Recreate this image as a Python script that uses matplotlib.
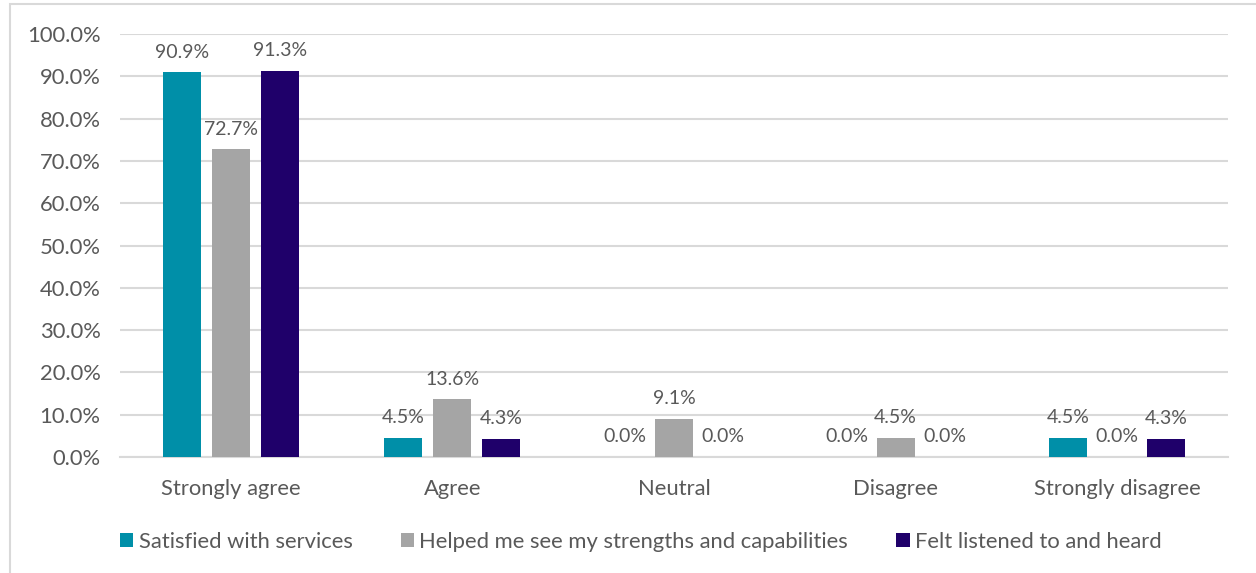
import matplotlib.pyplot as plt
import numpy as np
from matplotlib.patches import Rectangle

# Survey responses, percent of respondents
categories = ['Strongly agree', 'Agree', 'Neutral', 'Disagree', 'Strongly disagree']
series_names = ['Satisfied with services',
                'Helped me see my strengths and capabilities',
                'Felt listened to and heard']
satisfied = [90.9, 4.5, 0.0, 0.0, 4.5]
strengths = [72.7, 13.6, 9.1, 4.5, 0.0]
listened = [91.3, 4.3, 0.0, 0.0, 4.3]
series_colors = ['#008FA8', '#A5A5A5', '#1F006A']

plt.rcParams['font.family'] = ['Lato', 'DejaVu Sans']
text_color = '#595959'
grid_color = '#D9D9D9'

fig = plt.figure(figsize=(12.56, 5.73), dpi=100)
# chart area outline (runs off the right and bottom edges)
fig.patches.append(Rectangle((10 / 1256, -0.1), 1.2, (573 - 4) / 573 + 0.1,
                             transform=fig.transFigure, fill=False,
                             edgecolor=grid_color, linewidth=1.5))

ax = fig.add_axes([120 / 1256, 1 - 457 / 573, 1108 / 1256, 423 / 573])

x = np.arange(len(categories))
width = 0.172
offset = 0.221
for k, (vals, name, col) in enumerate(zip([satisfied, strengths, listened],
                                          series_names, series_colors)):
    bars = ax.bar(x + (k - 1) * offset, vals, width, color=col, label=name,
                  zorder=3)
    for b, v in zip(bars, vals):
        ax.annotate('%.1f%%' % v, (b.get_x() + b.get_width() / 2, v),
                    xytext=(0, 8.5), textcoords='offset points',
                    ha='center', va='bottom', fontsize=14, color=text_color)

ax.set_xlim(-0.5, 4.5)
ax.set_ylim(0, 100)
ax.set_yticks(np.arange(0, 101, 10))
ax.set_yticklabels(['%.1f%%' % t for t in range(0, 101, 10)])
ax.set_xticks(x)
ax.set_xticklabels(categories)
ax.yaxis.grid(True, color=grid_color, linewidth=1.5, zorder=0)
ax.set_axisbelow(True)
for s in ['top', 'right', 'left']:
    ax.spines[s].set_visible(False)
ax.spines['bottom'].set_color(grid_color)
ax.spines['bottom'].set_linewidth(1.5)
ax.tick_params(axis='both', length=0, labelsize=15.8, labelcolor=text_color)
ax.tick_params(axis='x', pad=16)
ax.tick_params(axis='y', pad=14)

ax.legend(loc='center', bbox_to_anchor=(0.47, -0.2), ncol=3, frameon=False,
          fontsize=15.8, labelcolor=text_color, handlelength=0.6,
          handleheight=0.6, handletextpad=0.25, columnspacing=2.2)

fig.savefig('out.png', dpi=100)
